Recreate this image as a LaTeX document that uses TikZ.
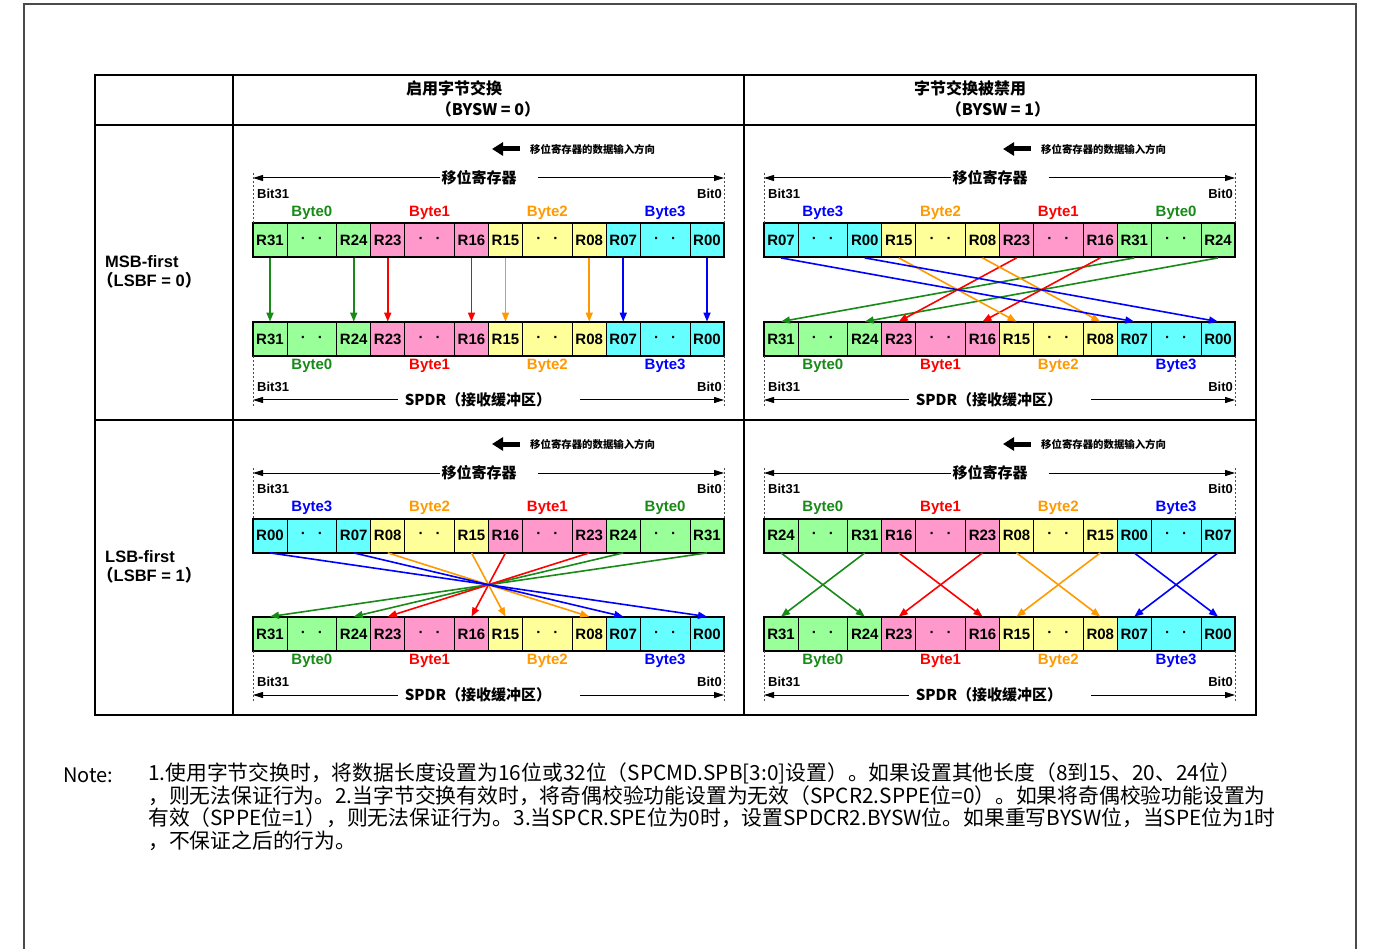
\documentclass[tikz,border=0pt]{standalone}
\usepackage{fontspec}
\setmainfont{Liberation Sans}
\newfontfamily\cjk{Noto Sans CJK SC}
\usetikzlibrary{arrows.meta}

\definecolor{gfill}{HTML}{99FF99}
\definecolor{pfill}{HTML}{FF99CC}
\definecolor{yfill}{HTML}{FFFF99}
\definecolor{cfill}{HTML}{66FFFF}
\definecolor{gtext}{HTML}{178A17}
\definecolor{rtext}{HTML}{FF0000}
\definecolor{otext}{HTML}{FF9900}
\definecolor{btext}{HTML}{0000FF}
\definecolor{framegray}{HTML}{4A4A4A}

\tikzset{
  cellbox/.style={draw=black, line width=0.8pt, minimum height=34pt, inner sep=0pt,
    font=\bfseries\fontsize{15}{15}\selectfont},
  regframe/.style={draw=black, line width=2pt},
  bytelabel/.style={inner sep=0pt, font=\bfseries\fontsize{15}{15}\selectfont},
  bitlabel/.style={inner sep=0pt, font=\bfseries\fontsize{13}{13}\selectfont},
  dimtext/.style={inner sep=1pt, font=\cjk\bfseries\fontsize{15}{15}\selectfont},
  dimline/.style={line width=1pt, -{Triangle[length=10pt,width=6pt]}},
  extline/.style={draw=black!70, line width=0.7pt, dash pattern=on 2pt off 2pt},
  dirtext/.style={inner sep=0pt, font=\cjk\bfseries\fontsize{10.4}{10.4}\selectfont},
  dirarrow/.style={line width=5pt, -{Triangle[length=11pt,width=13pt]}},
  conn/.style={line width=1.6pt, -{Triangle[length=9pt,width=7pt]}},
  headtext/.style={inner sep=0pt, font=\cjk\bfseries\fontsize{16}{16}\selectfont},
  rowtext/.style={inner sep=0pt, anchor=west, font=\bfseries\fontsize{16.5}{16.5}\selectfont},
  notetext/.style={inner sep=0pt, anchor=west, font=\cjk\fontsize{20.8}{22}\selectfont},
  tableline/.style={draw=black, line width=2pt},
}

% one register: name prefix, left x, centre y, bytes first/last/fill
\newcommand{\spireg}[4]{%
  \foreach \first/\last/\cf [count=\i from 0] in {#4} {
    \pgfmathsetmacro{\bx}{#2+\i*117.75}
    \node[cellbox, fill=\cf, minimum width=34pt] (#1\first) at (\bx+17,#3) {R\first};
    \node[cellbox, fill=\cf, minimum width=49.75pt] (#1\first mid) at (\bx+58.875,#3) {·\hspace{12pt}·};
    \node[cellbox, fill=\cf, minimum width=34pt] (#1\last) at (\bx+100.75,#3) {R\last};
  }
  \coordinate (#1nw) at (#2,#3-17);
  \coordinate (#1ne) at (#2+471,#3-17);
  \coordinate (#1sw) at (#2,#3+17);
  \coordinate (#1se) at (#2+471,#3+17);
  \draw[regframe] (#1nw) rectangle (#1se);
}

% one cell of the table: prefix, left x, top y, shift register bytes, byte labels
\newcommand{\spipanel}[5]{%
  % input direction
  \node[dirtext, anchor=west] (#1dir) at (#2+277,#3+149) {移位寄存器的数据输入方向};
  \coordinate (#1dirtip) at (#2+239,#3+149);
  \draw[dirarrow] ([xshift=-10pt]#1dir.west) -- (#1dirtip);
  % shift register
  \node[dimtext] (#1SR) at (#2+226,#3+178) {移位寄存器};
  \coordinate (#1SRl) at (#2,#3+178);
  \coordinate (#1SRr) at (#2+471,#3+178);
  \draw[dimline] (#1SR.west) -- (#1SRl);
  \draw[dimline] ([xshift=20pt]#1SR.east) -- (#1SRr);
  \node[bitlabel, anchor=west] (#1TB31) at (#2+4,#3+194) {Bit31};
  \node[bitlabel, anchor=east] (#1TB0) at (#2+469,#3+194) {Bit0};
  \foreach \lab/\col [count=\i from 0] in {#5}
    \node[bytelabel, text=\col] (#1TL\i) at (#2+\i*117.75+58.875,#3+213) {\lab};
  \spireg{#1T}{#2}{#3+240.5}{#4}
  \draw[extline] ([yshift=5pt]#1SRl) -- (#1Tnw);
  \draw[extline] ([yshift=5pt]#1SRr) -- (#1Tne);
  % SPDR
  \spireg{#1B}{#2}{#3+339}{31/24/gfill,23/16/pfill,15/08/yfill,07/00/cfill}
  \foreach \lab/\col [count=\i from 0] in {Byte0/gtext,Byte1/rtext,Byte2/otext,Byte3/btext}
    \node[bytelabel, text=\col] (#1BL\i) at (#2+\i*117.75+58.875,#3+366) {\lab};
  \node[bitlabel, anchor=west] (#1BB31) at (#2+4,#3+386.5) {Bit31};
  \node[bitlabel, anchor=east] (#1BB0) at (#2+469,#3+386.5) {Bit0};
  \node[dimtext] (#1SP) at (#2+225,#3+400) {SPDR（接收缓冲区）};
  \coordinate (#1SPl) at (#2,#3+400);
  \coordinate (#1SPr) at (#2+471,#3+400);
  \draw[dimline] ([xshift=-6pt]#1SP.west) -- (#1SPl);
  \draw[dimline] ([xshift=28pt]#1SP.east) -- (#1SPr);
  \draw[extline] (#1Bsw) -- ([yshift=-6pt]#1SPl);
  \draw[extline] (#1Bse) -- ([yshift=-6pt]#1SPr);
  % bit transfer
  \foreach \n/\col in {31/gtext,24/gtext,23/rtext,16/rtext,15/otext,08/otext,07/btext,00/btext}
    \draw[conn, color=\col] (#1T\n.south) -- (#1B\n.north);
}

\begin{document}
\begin{tikzpicture}[x=1pt,y=-1pt]
\useasboundingbox (0,0) rectangle (1376,949);
% page frame
\draw[framegray, line width=1.5pt] (24,960) -- (24,4) -- (1356,4) -- (1356,960);

% table
\draw[tableline, line width=2.5pt] (95,75) rectangle (1256,715);
\draw[tableline, line width=2.5pt] (95,125) -- (1256,125);
\draw[tableline] (95,420) -- (1256,420);
\draw[tableline] (233,75) -- (233,715);
\draw[tableline] (744,75) -- (744,715);

\node[headtext] (swon) at (454,88) {启用字节交换};
\node[headtext] (swonval) at (488,109) {（BYSW = 0）};
\node[headtext] (swoff) at (970,88) {字节交换被禁用};
\node[headtext] (swoffval) at (998,109) {（BYSW = 1）};

\node[rowtext] (msb) at (105,262) {MSB-first};
\node[rowtext] (msbval) at (97,280) {{\cjk（}LSBF = 0{\cjk）}};
\node[rowtext] (lsb) at (105,557) {LSB-first};
\node[rowtext] (lsbval) at (97,575) {{\cjk（}LSBF = 1{\cjk）}};

\spipanel{a}{253}{0}{31/24/gfill,23/16/pfill,15/08/yfill,07/00/cfill}{Byte0/gtext,Byte1/rtext,Byte2/otext,Byte3/btext}
\spipanel{b}{764}{0}{07/00/cfill,15/08/yfill,23/16/pfill,31/24/gfill}{Byte3/btext,Byte2/otext,Byte1/rtext,Byte0/gtext}
\spipanel{c}{253}{295}{00/07/cfill,08/15/yfill,16/23/pfill,24/31/gfill}{Byte3/btext,Byte2/otext,Byte1/rtext,Byte0/gtext}
\spipanel{d}{764}{295}{24/31/gfill,16/23/pfill,08/15/yfill,00/07/cfill}{Byte0/gtext,Byte1/rtext,Byte2/otext,Byte3/btext}

% note
\node[notetext, font=\cjk\fontsize{20}{22}\selectfont] (notehead) at (63,775) {Note:};
\node[notetext] (note1) at (148,773) {1.使用字节交换时，将数据长度设置为16位或32位（SPCMD.SPB[3:0]设置）。如果设置其他长度（8到15、20、24位）};
\node[notetext] (note2) at (148,796) {，则无法保证行为。2.当字节交换有效时，将奇偶校验功能设置为无效（SPCR2.SPPE位=0）。如果将奇偶校验功能设置为};
\node[notetext] (note3) at (148,818) {有效（SPPE位=1），则无法保证行为。3.当SPCR.SPE位为0时，设置SPDCR2.BYSW位。如果重写BYSW位，当SPE位为1时};
\node[notetext] (note4) at (148,841) {，不保证之后的行为。};
\end{tikzpicture}
\end{document}
